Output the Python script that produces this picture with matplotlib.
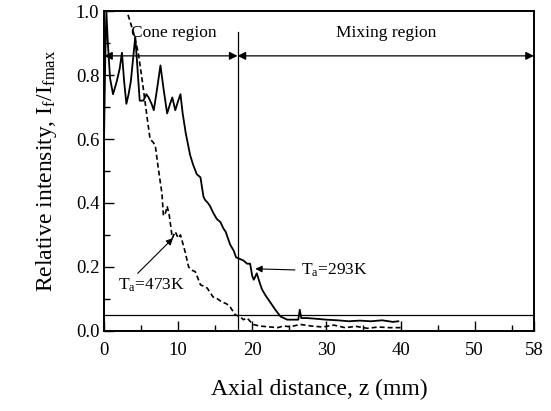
import matplotlib
matplotlib.use("Agg")
import matplotlib.pyplot as plt

plt.rcParams['font.family'] = ['Liberation Serif', 'DejaVu Serif']
plt.rcParams['mathtext.fontset'] = 'custom'
plt.rcParams['mathtext.rm'] = 'Liberation Serif'
plt.rcParams['mathtext.it'] = 'Liberation Serif'
plt.rcParams['mathtext.default'] = 'regular'

# Ta = 293 K (solid)
z_293 = [0, 0.15, 0.3, 0.5, 0.8, 1.2, 1.7, 2.1, 2.4, 2.7, 3.0, 3.3, 3.6, 3.9, 4.2,
         4.5, 4.8, 5.3, 5.7, 6.0, 6.4, 6.7, 7.1, 7.6, 8.0, 8.5, 8.9, 9.2, 9.6, 10.0,
         10.3, 10.6, 11.0, 11.6, 12.0, 12.5, 13.0, 13.4, 13.6, 14.0, 14.3, 14.7, 15.2, 15.7, 16.1,
         16.4, 17.0, 17.5, 17.8, 18.3, 18.8, 19.3, 19.7, 20.0, 20.2, 20.6, 21.0, 21.3, 21.8, 22.4,
         23.1, 23.8, 24.7, 25.5, 26.2, 26.4, 26.6, 27.4, 28.5, 30, 31.5, 33, 34.5, 36, 37.5,
         39, 39.7]
I_293 = [0.62, 0.85, 1.0, 0.9, 0.79, 0.74, 0.78, 0.82, 0.87, 0.78, 0.71, 0.74, 0.78, 0.85, 0.92,
         0.82, 0.72, 0.72, 0.74, 0.73, 0.71, 0.69, 0.75, 0.83, 0.76, 0.68, 0.71, 0.73, 0.69, 0.72,
         0.74, 0.68, 0.62, 0.55, 0.52, 0.49, 0.48, 0.42, 0.41, 0.40, 0.39, 0.37, 0.35, 0.34, 0.32,
         0.31, 0.27, 0.25, 0.23, 0.225, 0.22, 0.21, 0.21, 0.17, 0.16, 0.18, 0.15, 0.13, 0.11, 0.09,
         0.066, 0.045, 0.035, 0.035, 0.035, 0.066, 0.04, 0.04, 0.038, 0.035, 0.033, 0.03, 0.032, 0.03, 0.033,
         0.028, 0.03]

# Ta = 473 K (dashed)
z_473 = [2.9, 3.2, 3.6, 4.0, 4.6, 5.1, 5.5, 5.9, 6.2, 6.6, 6.9, 7.3, 7.8, 8.0, 8.3,
         8.5, 8.8, 9.2, 9.6, 10.0, 10.3, 10.9, 11.4, 11.8, 12.3, 13.0, 13.4, 13.9, 14.3, 14.7,
         15.3, 15.9, 16.5, 17.0, 17.7, 18.3, 18.8, 19.3, 20.1, 21.0, 22.0, 23.4, 24.2, 25.1, 26.5,
         28, 29.5, 31, 32.5, 34, 35.5, 37, 38.5, 40]
I_473 = [1.05, 0.99, 0.96, 0.93, 0.87, 0.79, 0.72, 0.65, 0.60, 0.59, 0.58, 0.51, 0.43, 0.36, 0.37,
         0.39, 0.36, 0.29, 0.31, 0.29, 0.30, 0.25, 0.20, 0.19, 0.185, 0.144, 0.14, 0.134, 0.12, 0.106,
         0.10, 0.09, 0.085, 0.075, 0.05, 0.045, 0.035, 0.04, 0.02, 0.015, 0.013, 0.01, 0.015, 0.013, 0.02,
         0.015, 0.012, 0.018, 0.01, 0.014, 0.008, 0.012, 0.01, 0.01]

x_major = [0, 10, 20, 30, 40, 50, 58]
x_minor = [5, 15, 25, 35, 45, 55]
y_major = [0.0, 0.2, 0.4, 0.6, 0.8, 1.0]
y_minor = [0.1, 0.3, 0.5, 0.7, 0.9]

z_cone_end = 18
z_max = 58
threshold = 0.05
arrow_level = 0.86

fig = plt.figure(figsize=(5.51, 4.11), dpi=100)
ax = fig.add_axes([0.189, 0.195, 0.780, 0.778])

ax.plot(z_293, I_293, color='black', lw=1.3)
ax.plot(z_473, I_473, color='black', lw=1.2, linestyle=(0, (3, 1.8)))

# reference lines
ax.plot([0, z_max], [threshold, threshold], color='black', lw=0.9)
ax.plot([z_cone_end, z_cone_end], [0, 0.935], color='black', lw=0.9)

# region arrows
arrow_kw = dict(arrowstyle='<|-|>', color='black', lw=0.9, mutation_scale=12, shrinkA=0, shrinkB=0)
ax.annotate('', xy=(0, arrow_level), xytext=(z_cone_end, arrow_level), arrowprops=arrow_kw)
ax.annotate('', xy=(z_cone_end, arrow_level), xytext=(z_max, arrow_level), arrowprops=arrow_kw)

ax.text(9.4, 0.93, 'Cone region', fontsize=12.5, ha='center', va='center')
ax.text(38, 0.93, 'Mixing region', fontsize=12.5, ha='center', va='center')

ax.annotate('T$_a$=473K', xy=(9.3, 0.29), xytext=(1.9, 0.144), fontsize=12.5,
            ha='left', va='center',
            arrowprops=dict(arrowstyle='-|>', color='black', lw=0.8, mutation_scale=10,
                            shrinkA=0, shrinkB=0, relpos=(0.25, 1.0)))
ax.annotate('T$_a$=293K', xy=(20.4, 0.194), xytext=(26.5, 0.19), fontsize=12.5,
            ha='left', va='center',
            arrowprops=dict(arrowstyle='-|>', color='black', lw=0.8, mutation_scale=10,
                            shrinkA=2, shrinkB=0, relpos=(0.0, 0.5)))

ax.set_xlim(0, z_max)
ax.set_ylim(0, 1.0)
ax.set_xticks(x_major)
ax.set_xticks(x_minor, minor=True)
ax.set_yticks(y_major)
ax.set_yticks(y_minor, minor=True)
ax.set_yticklabels(['%.1f' % v for v in y_major])
ax.tick_params(which='both', direction='in', top=False, right=False, labelsize=13.5)
ax.tick_params(which='major', length=7, width=1.0)
ax.tick_params(which='minor', length=4, width=1.0)
ax.tick_params(axis='x', pad=8)
for s in ax.spines.values():
    s.set_linewidth(1.4)

ax.set_xlabel('Axial distance, z (mm)', fontsize=17, labelpad=14)
ax.set_ylabel('Relative intensity, I$_f$/I$_{fmax}$', fontsize=17, labelpad=12)

plt.savefig('out.png', dpi=100)
